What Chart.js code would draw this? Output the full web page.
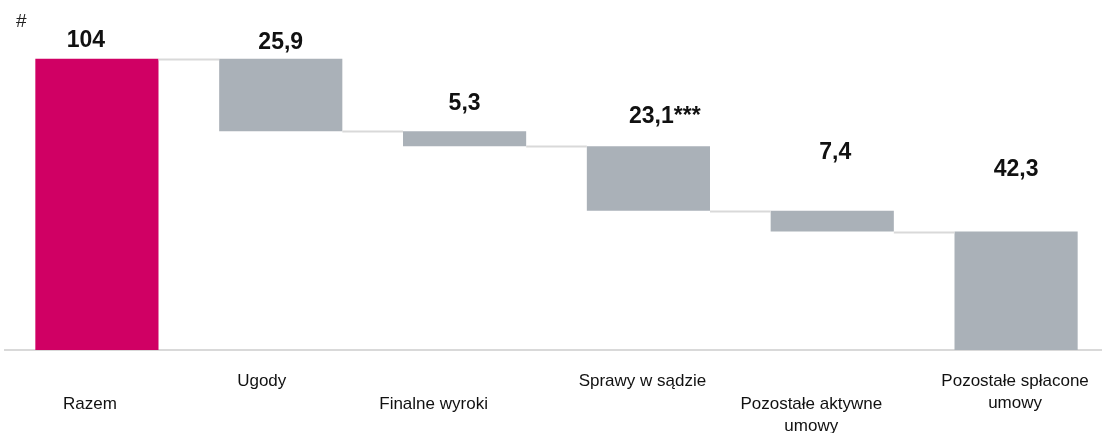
<!DOCTYPE html>
<html>
<head>
<meta charset="utf-8">
<script src="https://cdn.jsdelivr.net/npm/chart.js@4.4.1/dist/chart.umd.min.js"></script>
<style>
  html, body { margin: 0; padding: 0; background: #fff; overflow: hidden; }
  #wrap { position: relative; width: 1110px; height: 433px; }
  #hash { position: absolute; left: 16px; top: 10px; font: 19px "Liberation Sans", Arial, sans-serif; color: #222; }
</style>
</head>
<body>
<div id="wrap">
  <canvas id="chart" width="1110" height="433"></canvas>
  <div id="hash">#</div>
</div>
<script>
// categories and values (in #)
var categories = ['Razem', 'Ugody', 'Finalne wyroki', 'Sprawy w sądzie', 'Pozostałe aktywne umowy', 'Pozostałe spłacone umowy'];
var axisLabels = [['Razem'], ['Ugody'], ['Finalne wyroki'], ['Sprawy w sądzie'], ['Pozostałe aktywne', 'umowy'], ['Pozostałe spłacone', 'umowy']];
var total = 104;
var decreases = [25.9, 5.3, 23.1, 7.4, 42.3];
var valueSuffix = ['', '', '', '***', '', ''];

// build floating bars: total first, then each step going down
var bars = [[0, total]];
var level = total;
decreases.forEach(function(d){
  bars.push([+(level - d).toFixed(1), level]);
  level = +(level - d).toFixed(1);
});
var shown = [total].concat(decreases);

var colors = bars.map(function(b, i){ return i == 0 ? '#D00064' : '#AAB1B8'; });

var waterfallExtras = {
  id: 'waterfallExtras',
  afterDatasetsDraw: function(chart, args, opts) {
    var ctx = chart.ctx;
    var meta = chart.getDatasetMeta(0);
    var y = chart.scales.y;
    var x = chart.scales.x;
    ctx.save();

    // connectors between steps
    ctx.strokeStyle = '#D9D9D9';
    ctx.lineWidth = 2;
    for (var i = 0; i < meta.data.length - 1; i++) {
      var a = meta.data[i], b = meta.data[i + 1];
      var lv = i == 0 ? bars[0][1] : bars[i][0];
      var py = Math.round(y.getPixelForValue(lv)) + 0.5;
      ctx.beginPath();
      ctx.moveTo(a.x + a.width / 2, py);
      ctx.lineTo(b.x - b.width / 2, py);
      ctx.stroke();
    }

    // value labels
    ctx.fillStyle = '#111';
    ctx.font = 'bold 23px "Liberation Sans", Arial, sans-serif';
    ctx.textBaseline = 'middle';
    meta.data.forEach(function(el, i){
      var txt = String(shown[i]).replace('.', ',');
      var top = y.getPixelForValue(bars[i][1]);
      var cx = el.x + opts.valueShift[i];
      var cy = top - opts.valueOffset[i];
      ctx.textAlign = 'center';
      ctx.fillText(txt, cx, cy);
      if (valueSuffix[i]) {
        ctx.textAlign = 'left';
        ctx.fillText(valueSuffix[i], cx + ctx.measureText(txt).width / 2, cy);
      }
    });

    // category labels (staggered)
    ctx.fillStyle = '#111';
    ctx.font = '17px "Liberation Sans", Arial, sans-serif';
    ctx.textAlign = 'center';
    axisLabels.forEach(function(lines, i){
      var cx = x.getPixelForValue(i) + opts.labelShift[i];
      var cy = opts.labelTop[i % 2];
      lines.forEach(function(t, k){
        ctx.fillText(t, cx, cy + k * 22);
      });
    });
    ctx.restore();
  }
};

new Chart(document.getElementById('chart').getContext('2d'), {
  type: 'bar',
  data: {
    labels: categories,
    datasets: [{
      data: bars,
      backgroundColor: colors,
      borderWidth: 0,
      barPercentage: 0.67,
      categoryPercentage: 1
    }]
  },
  options: {
    responsive: false,
    animation: false,
    layout: { padding: { left: 5, right: 2, top: 14, bottom: 83 } },
    plugins: {
      legend: { display: false },
      tooltip: { enabled: false },
      waterfallExtras: {
        valueOffset: [18, 16, 28, 30, 58, 62],
        valueShift: [-11, 0, 0, 3, 3, 0],
        labelShift: [-7, -19, -31, -6, -21, -1],
        labelTop: [404, 381]
      }
    },
    scales: {
      x: {
        grid: { display: false, drawTicks: false },
        border: { display: true, color: '#D9D9D9', width: 2 },
        ticks: { display: false }
      },
      y: {
        display: false,
        min: 0,
        max: 120
      }
    }
  },
  plugins: [waterfallExtras]
});
</script>
</body>
</html>
